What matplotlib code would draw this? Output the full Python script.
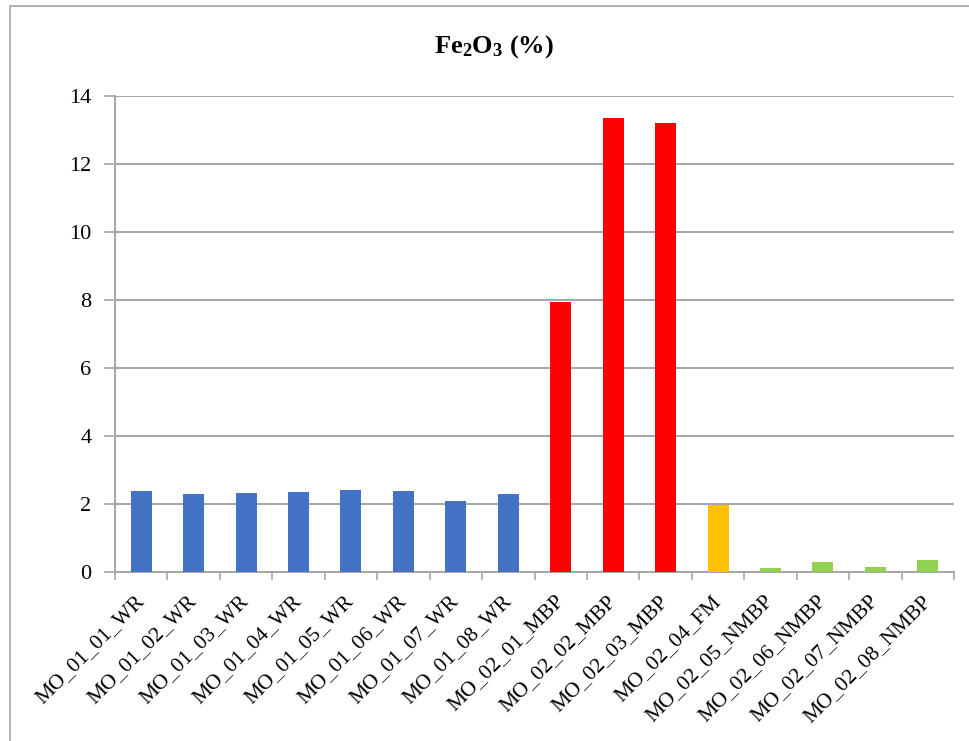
import matplotlib
matplotlib.use("Agg")
import matplotlib.pyplot as plt
from matplotlib.patches import Rectangle

plt.rcParams['font.family'] = ['Liberation Serif', 'DejaVu Serif']
plt.rcParams['mathtext.fontset'] = 'custom'
plt.rcParams['mathtext.rm'] = 'Liberation Serif'
plt.rcParams['mathtext.bf'] = 'Liberation Serif:bold'

# sample names and Fe2O3 content (%)
samples = ['MO_01_01_WR', 'MO_01_02_WR', 'MO_01_03_WR', 'MO_01_04_WR',
           'MO_01_05_WR', 'MO_01_06_WR', 'MO_01_07_WR', 'MO_01_08_WR',
           'MO_02_01_MBP', 'MO_02_02_MBP', 'MO_02_03_MBP', 'MO_02_04_FM',
           'MO_02_05_NMBP', 'MO_02_06_NMBP', 'MO_02_07_NMBP', 'MO_02_08_NMBP']
fe2o3 = [2.39, 2.28, 2.32, 2.35, 2.40, 2.39, 2.09, 2.29,
         7.94, 13.35, 13.21, 1.97, 0.12, 0.29, 0.15, 0.35]
groups = ['WR'] * 8 + ['MBP'] * 3 + ['FM'] + ['NMBP'] * 4
group_colors = {'WR': '#4472C4', 'MBP': '#FF0000', 'FM': '#FFC000', 'NMBP': '#92D050'}
yticks = [0, 2, 4, 6, 8, 10, 12, 14]

fig = plt.figure(figsize=(9.7, 7.41), dpi=100)
ax = fig.add_axes([115 / 970, 1 - 572 / 741, (954 - 115) / 970, (572 - 96) / 741])

x = list(range(len(samples)))
ax.bar(x, fe2o3, width=0.4, color=[group_colors[g] for g in groups], zorder=3)

ax.set_xlim(-0.5, len(samples) - 0.5)
ax.set_ylim(0, 14)
ax.set_yticks(yticks)
ax.set_yticklabels([str(v) for v in yticks], fontsize=16)
ax.yaxis.grid(True, color='#A6A6A6', linewidth=1.4, zorder=0)
ax.tick_params(axis='y', length=8, width=1.2, color='#A6A6A6', pad=9)

ax.set_xticks(x)
ax.set_xticklabels(samples, rotation=45, ha='right', va='center',
                   rotation_mode='anchor', fontsize=15.5)
ax.tick_params(axis='x', which='major', length=0, pad=19)
ax.set_xticks([i - 0.5 for i in range(len(samples) + 1)], minor=True)
ax.tick_params(axis='x', which='minor', length=6, width=1.2, color='#A6A6A6')

for side in ['top', 'right']:
    ax.spines[side].set_visible(False)
for side in ['left', 'bottom']:
    ax.spines[side].set_color('#A6A6A6')
    ax.spines[side].set_linewidth(1.4)

fig.text(494 / 970, 1 - 47 / 741, r'$\mathbf{Fe_2O_3}$ (%)', fontsize=19,
         fontweight='bold', ha='center', va='center')

# chart border
fig.patches.append(Rectangle((10 / 970, -0.02), 1.0, 1 - 6 / 741 + 0.02,
                             transform=fig.transFigure, fill=False,
                             edgecolor='#A6A6A6', linewidth=1.2))

fig.savefig('out.png', dpi=100)
